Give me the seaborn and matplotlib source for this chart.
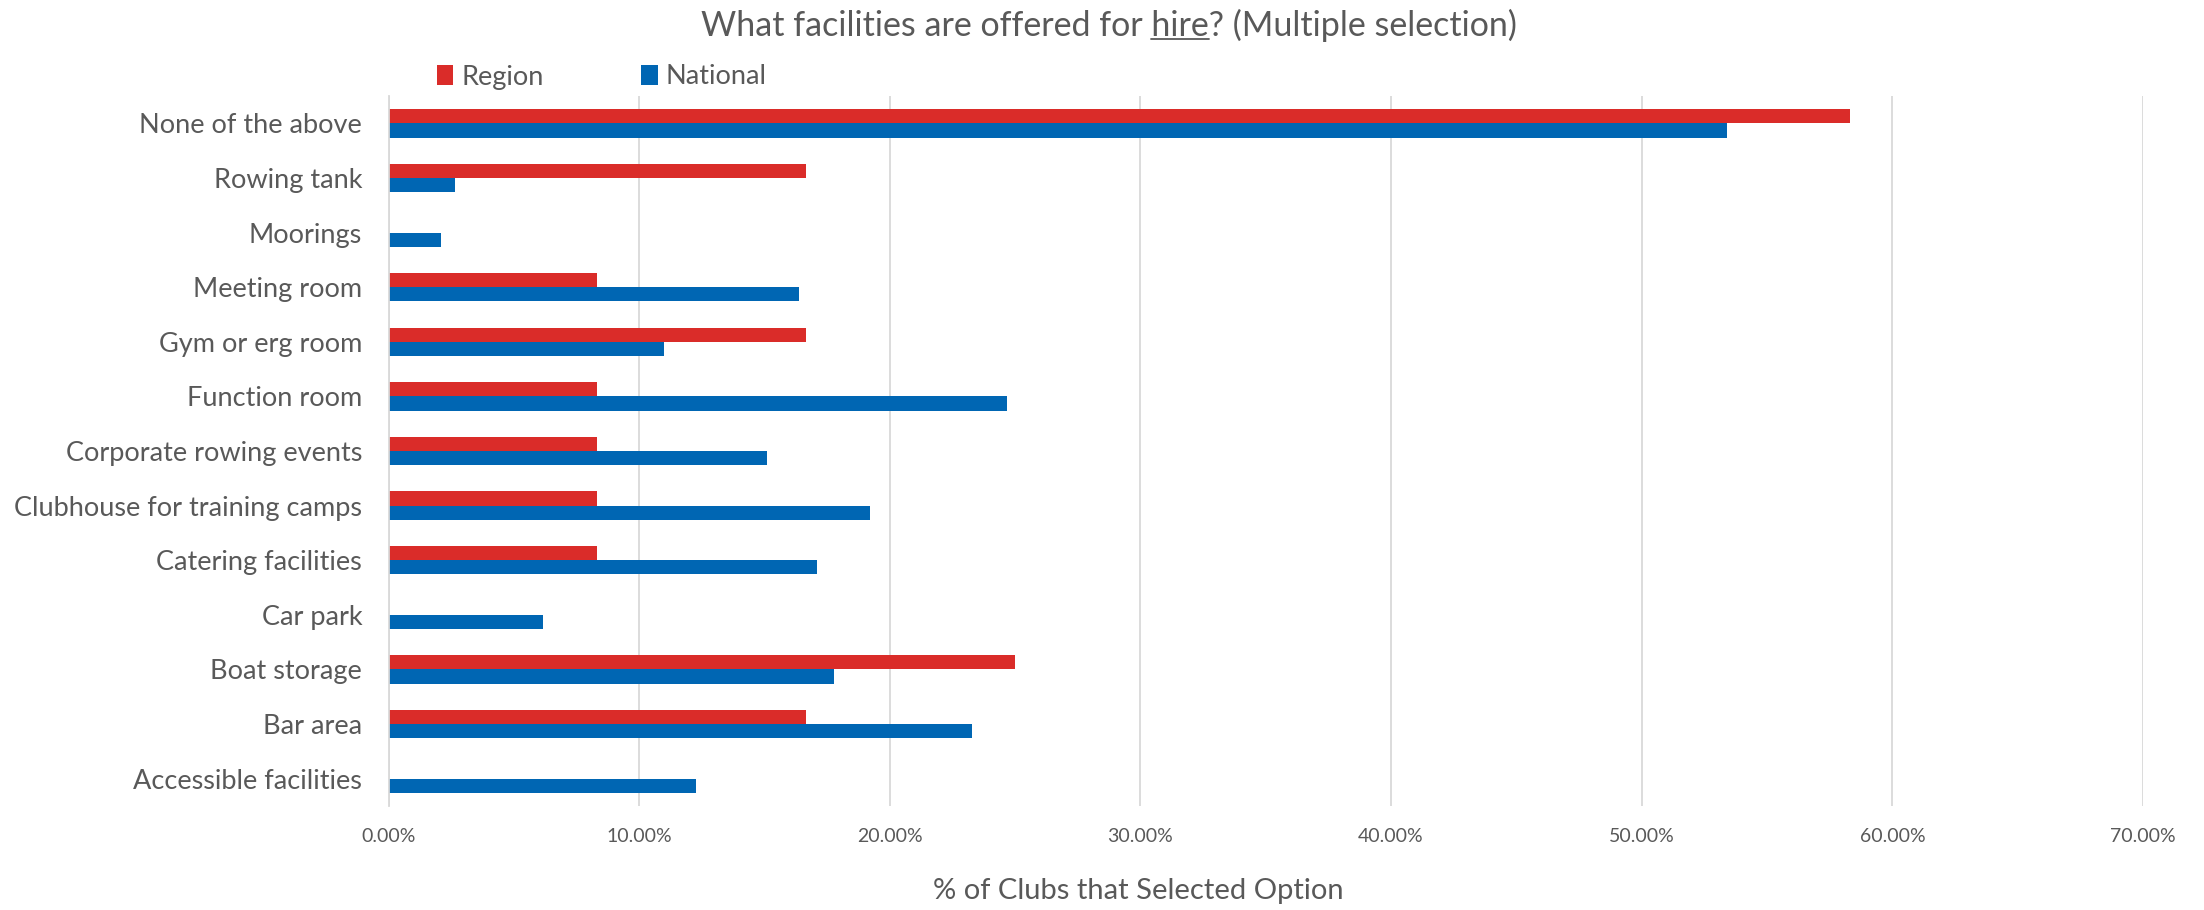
import pandas as pd
import numpy as np
import matplotlib.pyplot as plt
import seaborn as sns
from matplotlib.ticker import FuncFormatter

# Datos
facilities = ['None of the above', 'Rowing tank', 'Moorings', 'Meeting room',
              'Gym or erg room', 'Function room', 'Corporate rowing events',
              'Clubhouse for training camps', 'Catering facilities', 'Car park',
              'Boat storage', 'Bar area', 'Accessible facilities']
region = [58.33, 16.67, 0.0, 8.33, 16.67, 8.33, 8.33, 8.33, 8.33, 0.0, 25.0, 16.67, 0.0]
national = [53.4, 2.67, 2.08, 16.37, 10.98, 24.68, 15.09, 19.19, 17.09, 6.15, 17.78, 23.28, 12.26]
series = ['Region', 'National']
colors = ['#DA2C29', '#0066B3']

df = pd.DataFrame({
    'facility': facilities * 2,
    'pct': region + national,
    'group': [series[0]] * len(facilities) + [series[1]] * len(facilities),
})

sns.set_style('white')
plt.rcParams['font.family'] = ['Lato', 'DejaVu Sans']
text_col = '#595959'

fig = plt.figure(figsize=(22.04, 9.10), dpi=100)
ax = fig.add_axes([0.1763, 0.1143, 0.9723 - 0.1763, 0.8945 - 0.1143])

sns.barplot(data=df, x='pct', y='facility', hue='group', hue_order=series,
            palette=colors, orient='h', width=0.52, order=facilities,
            saturation=1, ax=ax, edgecolor='none', linewidth=0)

ax.set_xlim(0, 70)
ax.set_ylim(len(facilities) - 0.5, -0.5)
ax.set_xticks(np.arange(0, 71, 10))
ax.xaxis.set_major_formatter(FuncFormatter(lambda v, p: f'{v:.2f}%'))
ax.grid(axis='x', color='#D9D9D9', linewidth=1.3)
ax.grid(axis='y', visible=False)
ax.set_axisbelow(True)
for s in ['top', 'right', 'bottom']:
    ax.spines[s].set_visible(False)
ax.spines['left'].set_color('#D9D9D9')
ax.spines['left'].set_linewidth(1.3)
ax.tick_params(axis='x', length=0, pad=16, labelsize=14, labelcolor=text_col)
ax.tick_params(axis='y', length=0, pad=19, labelsize=19.5, labelcolor=text_col)
ax.set_xlabel('')
ax.set_ylabel('')

fig.text(1138 / 2204, 1 - 891 / 910, '% of Clubs that Selected Option',
         ha='center', va='center', fontsize=21, color=text_col)

# Leyenda
handles, labels = ax.get_legend_handles_labels()
ax.legend(handles, labels, loc='center left', ncol=2,
          bbox_to_anchor=(437 / 2204, 1 - 77 / 910), bbox_transform=fig.transFigure,
          frameon=False, fontsize=19.5, labelcolor=text_col,
          handlelength=0.6, handleheight=0.75, handletextpad=0.3,
          columnspacing=3.6, borderaxespad=0, borderpad=0)

# Titulo con "hire" subrayado
fs_title = 24.5
title = 'What facilities are offered for hire? (Multiple selection)'
tx, ty = 1109 / 2204, 1 - 25 / 910
t = fig.text(tx, ty, title, ha='center', va='center', fontsize=fs_title, color=text_col)
fig.canvas.draw()
r = fig.canvas.get_renderer()
bb = t.get_window_extent(r)
probe = fig.text(0, 0, 'What facilities are offered for hire', fontsize=fs_title)
w_pre = probe.get_window_extent(r).width
probe.set_text('hire')
w_hire = probe.get_window_extent(r).width
probe.remove()
x1 = bb.x0 + w_pre
x0 = x1 - w_hire
yl = bb.y0 + 3
fig.add_artist(plt.Line2D([x0 / fig.bbox.width, x1 / fig.bbox.width],
                          [yl / fig.bbox.height] * 2, color=text_col, linewidth=1.3))

plt.savefig('out.png', dpi=100)
plt.close()
